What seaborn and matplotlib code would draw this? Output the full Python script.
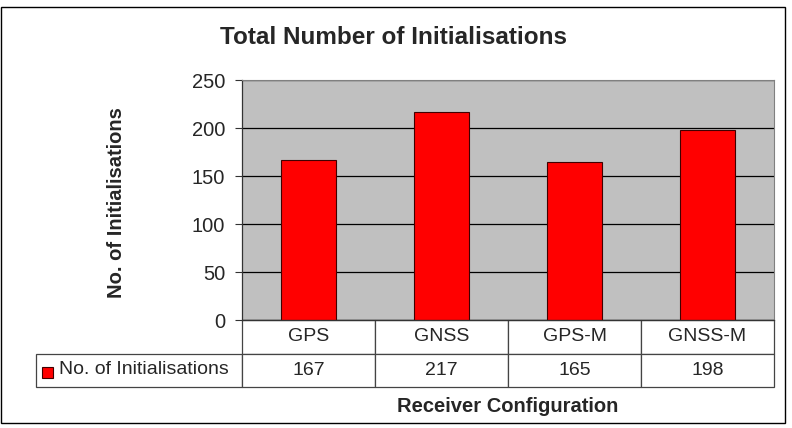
import pandas as pd
import seaborn as sns
import matplotlib.pyplot as plt
from matplotlib.patches import Rectangle

categories = ['GPS', 'GNSS', 'GPS-M', 'GNSS-M']
initialisations = [167, 217, 165, 198]
series_name = 'No. of Initialisations'

df = pd.DataFrame({'config': categories, 'n': initialisations})

sns.set_style('white')
plt.rcParams['font.family'] = ['Liberation Sans', 'DejaVu Sans']

fig = plt.figure(figsize=(7.92, 4.28), dpi=100)
ax = fig.add_axes([242/792, 1 - 320/428, 532/792, 240/428])

sns.barplot(data=df, x='config', y='n', color='#ff0000', width=0.41,
            edgecolor='#400000', linewidth=0.8, saturation=1, ax=ax)
ax.set_facecolor('#c0c0c0')
ax.set_ylim(0, 250)
ax.set_yticks(range(0, 251, 50))
ax.yaxis.grid(True, color='black', linewidth=0.9)
ax.set_axisbelow(True)
ax.tick_params(axis='y', left=True, length=5, width=0.8, color='#333', labelsize=14.5, pad=7)
ax.tick_params(axis='x', bottom=False, labelbottom=False)
ax.set_xlabel('')
ax.set_ylabel('')
for s in ['top', 'right']:
    ax.spines[s].set_color('#808080')
for s in ['left', 'bottom']:
    ax.spines[s].set_color('#333')
    ax.spines[s].set_linewidth(0.9)

# data table under the plot (first column = legend/label column)
lab_w = 206/532
rows = [[''] + categories, [''] + [str(v) for v in initialisations]]
tbl = ax.table(cellText=rows, cellLoc='center',
               bbox=[-lab_w, -67/240, 1 + lab_w, 67/240])
tbl.auto_set_font_size(False)
for (r, c), cell in tbl.get_celld().items():
    cell.set_linewidth(0.9)
    cell.set_edgecolor('#444')
    cell.get_text().set_fontsize(14)
    cell.set_width(lab_w if c == 0 else 0.25)
tbl[0, 0].visible_edges = ''
tbl[0, 0].set_facecolor('none')

# legend key + series name in table
fig.add_artist(Rectangle((42/792, 1 - 378/428), 11/792, 11/428,
                         facecolor='#ff0000', edgecolor='#400000',
                         linewidth=0.8, transform=fig.transFigure))
fig.text(59/792, 1 - 370/428, series_name, ha='left', va='center', fontsize=14)

fig.text(393/792, 1 - 37/428, 'Total Number of Initialisations',
         ha='center', va='center', fontsize=17.5, fontweight='bold')
fig.text(117/792, 1 - 203/428, 'No. of Initialisations', rotation=90,
         ha='center', va='center', fontsize=14.5, fontweight='bold')
fig.text(508/792, 1 - 406/428, 'Receiver Configuration',
         ha='center', va='center', fontsize=14.5, fontweight='bold')

fig.add_artist(Rectangle((1/792, 5/428), 784/792, 416/428, fill=False,
                         edgecolor='black', linewidth=1,
                         transform=fig.transFigure))

fig.savefig('out.png', dpi=100)
